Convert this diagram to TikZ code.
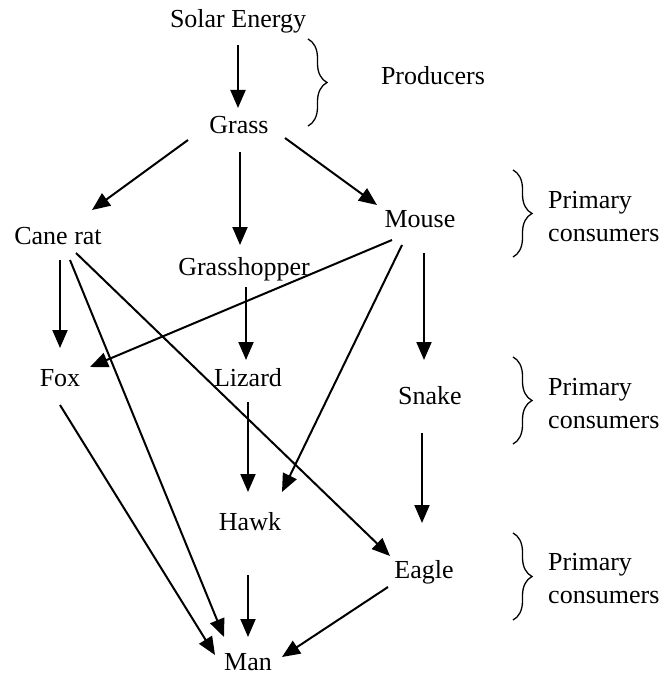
\documentclass[tikz,border=0pt]{standalone}
\usepackage{fontspec}
\setmainfont{Liberation Serif}
\usetikzlibrary{arrows.meta,decorations.pathreplacing,calc}
\begin{document}
\begin{tikzpicture}[x=1pt,y=-1pt,
  lbl/.style={font=\fontsize{26}{31}\selectfont, inner sep=0pt, anchor=base},
  side/.style={font=\fontsize{26}{31}\selectfont, inner sep=0pt, anchor=base west},
  arr/.style={line width=2pt, -{Triangle[length=18pt,width=15pt]}},
  brc/.style={decorate, decoration={brace, amplitude=19pt, aspect=0.5}, line width=1.3pt}]
\useasboundingbox (0,0) rectangle (666,679);
% nodes (positioned by baseline)
\node[lbl] (solar)  at (238,28)  {Solar Energy};
\node[lbl] (grass)  at (239,134) {Grass};
\node[lbl] (cane)   at (58,244)  {Cane rat};
\node[lbl] (mouse)  at (420,227) {Mouse};
\node[lbl] (hopper) at (244,275) {Grasshopper};
\node[lbl] (fox)    at (60,386)  {Fox};
\node[lbl] (lizard) at (248,386) {Lizard};
\node[lbl] (snake)  at (430,404) {Snake};
\node[lbl] (hawk)   at (250,530) {Hawk};
\node[lbl] (eagle)  at (424,578) {Eagle};
\node[lbl] (man)    at (248,670) {Man};
% braces and labels
\coordinate (b0a) at (308,39);  \coordinate (b0b) at (308,126);
\coordinate (b1a) at (513,170); \coordinate (b1b) at (513,257);
\coordinate (b2a) at (513,357); \coordinate (b2b) at (513,444);
\coordinate (b3a) at (513,533); \coordinate (b3b) at (513,620);
\draw[brc] (b0a) -- (b0b);
\draw[brc] (b1a) -- (b1b);
\draw[brc] (b2a) -- (b2b);
\draw[brc] (b3a) -- (b3b);
\node[lbl] (prod) at (433,85) {Producers};
\node[side] (p1) at (548,208) {Primary};
\node[side] (c1) at (548,241) {consumers};
\node[side] (p2) at (548,395) {Primary};
\node[side] (c2) at (548,428) {consumers};
\node[side] (p3) at (548,570) {Primary};
\node[side] (c3) at (548,603) {consumers};
% arrows
\draw[arr] ($(solar.base)+(0,17)$) -- ($(grass.base)+(-1,-26)$);
\draw[arr] ($(grass.base)+(-51,6)$) -- ($(cane.base)+(34,-34)$);
\draw[arr] ($(grass.base)+(1,18)$) -- ($(hopper.base)+(-4,-30)$);
\draw[arr] ($(grass.base)+(46,4)$) -- ($(mouse.base)+(-43,-22)$);
\draw[arr] ($(cane.base)+(2,16)$) -- ($(fox.base)+(0,-38)$);
\draw[arr] ($(cane.base)+(12,16)$) -- ($(man.base)+(-24,-33)$);
\draw[arr] ($(cane.base)+(18,9)$) -- ($(eagle.base)+(-34,-22)$);
\draw[arr] ($(mouse.base)+(-28,13)$) -- ($(fox.base)+(30,-19)$);
\draw[arr] ($(mouse.base)+(-18,18)$) -- ($(hawk.base)+(32,-38)$);
\draw[arr] ($(mouse.base)+(4,26)$) -- ($(snake.base)+(-6,-44)$);
\draw[arr] ($(hopper.base)+(2,12)$) -- ($(lizard.base)+(-2,-26)$);
\draw[arr] ($(lizard.base)+(0,16)$) -- ($(hawk.base)+(-2,-38)$);
\draw[arr] ($(snake.base)+(-8,29)$) -- ($(eagle.base)+(-2,-55)$);
\draw[arr] ($(fox.base)+(0,19)$) -- ($(man.base)+(-33,-15)$);
\draw[arr] ($(hawk.base)+(-2,45)$) -- ($(man.base)+(0,-33)$);
\draw[arr] ($(eagle.base)+(-36,9)$) -- ($(man.base)+(34,-13)$);
\end{tikzpicture}
\end{document}
